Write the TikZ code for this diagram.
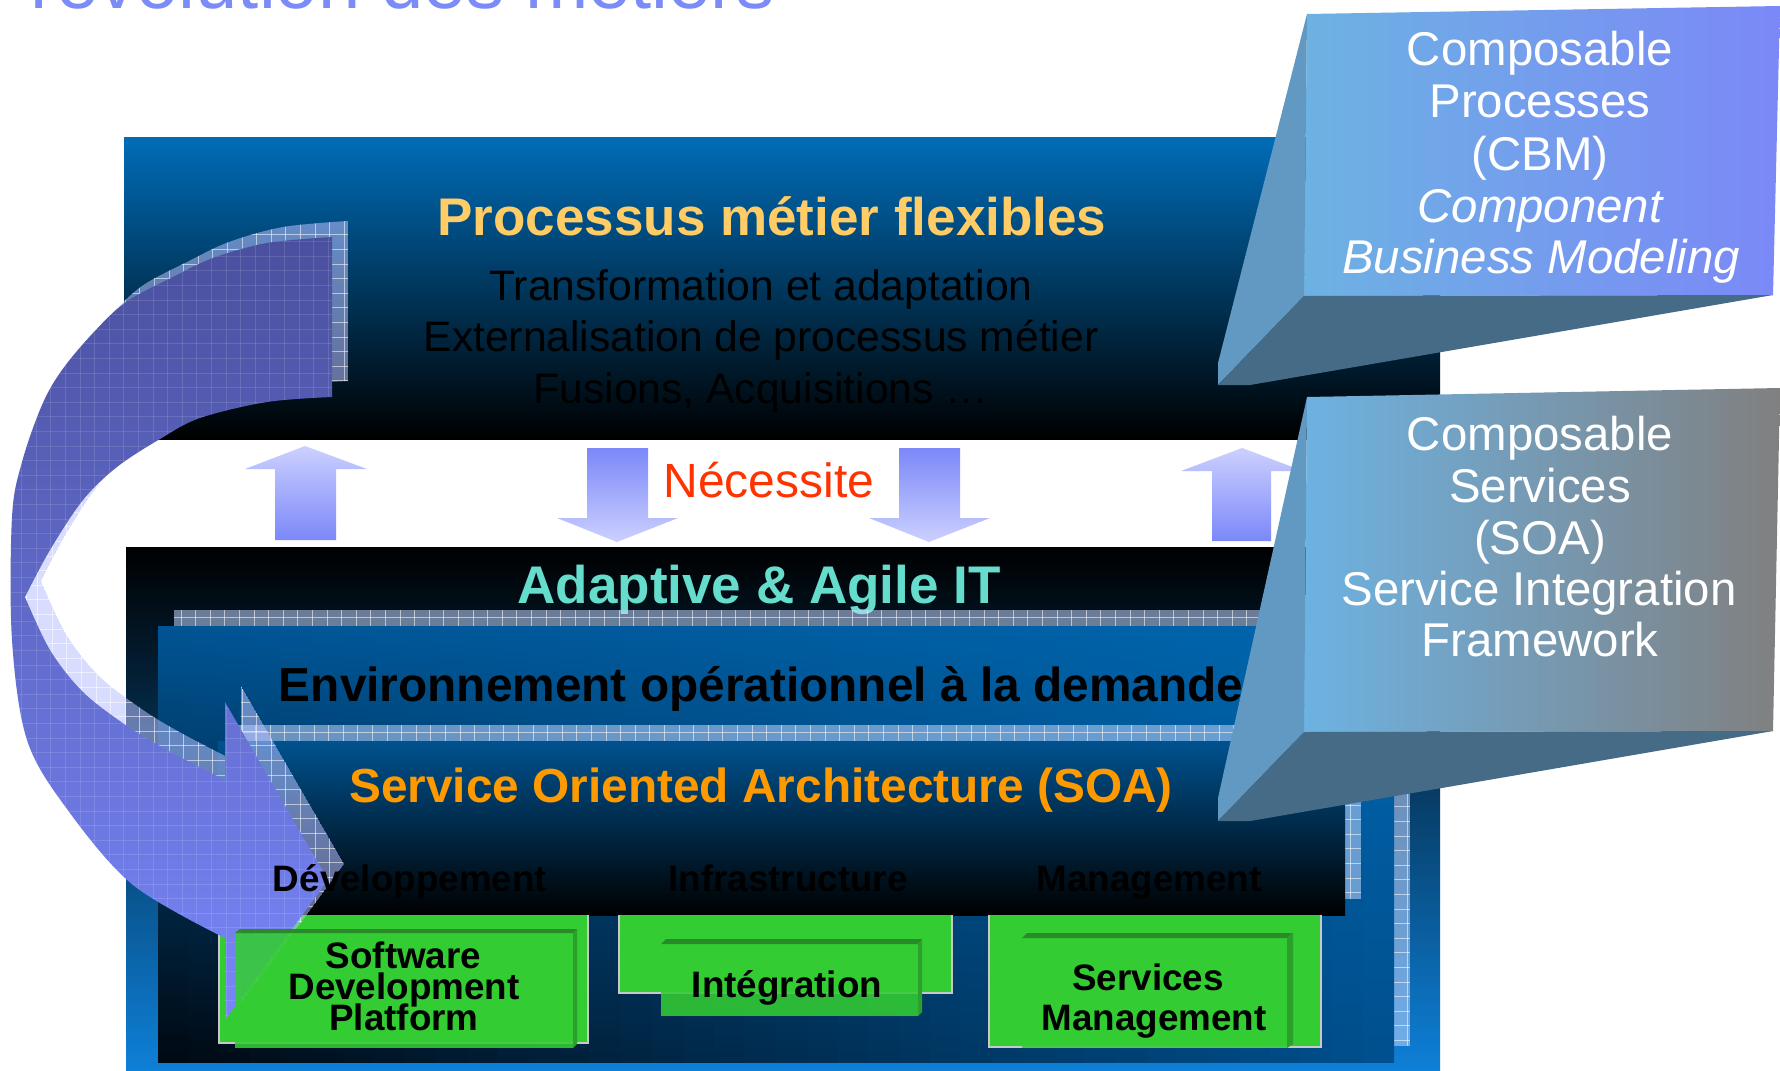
\documentclass[tikz,border=0pt]{standalone}
\usepackage{fontspec}
\setmainfont{Liberation Sans}
\definecolor{titleblue}{HTML}{7B8BF7}
\definecolor{boxblue}{HTML}{006DB8}
\definecolor{boxmid}{HTML}{00558F}
\definecolor{procyellow}{HTML}{FFCC66}
\definecolor{necred}{HTML}{FF3300}
\definecolor{agilecyan}{HTML}{66DDCC}
\definecolor{soaorange}{HTML}{FF9900}
\definecolor{arrlight}{HTML}{CCD0FF}
\definecolor{arrdark}{HTML}{7B88F8}
\definecolor{envTL}{HTML}{005494}
\definecolor{envTR}{HTML}{0066AE}
\definecolor{envBL}{HTML}{000810}
\definecolor{envBR}{HTML}{00508F}
\definecolor{soatop}{HTML}{00528F}
\definecolor{soamid}{HTML}{003D70}
\definecolor{bblue}{HTML}{0E80D8}
\definecolor{bmid}{HTML}{04406E}
\definecolor{shadowc}{HTML}{C1D6FF}
\definecolor{ashadow}{HTML}{B8C0FF}
\definecolor{curtop}{HTML}{4A509E}
\definecolor{curbot}{HTML}{7886F8}
\definecolor{gfront}{HTML}{33CC33}
\definecolor{gtop}{HTML}{2A8A2A}
\definecolor{gside}{HTML}{2CA02C}
\definecolor{gborder}{HTML}{C8C8C8}
\definecolor{calsky}{HTML}{6DB2E2}
\definecolor{calviolet}{HTML}{7B88F8}
\definecolor{calgray}{HTML}{808080}
\definecolor{calleft}{HTML}{6199C3}
\definecolor{calbottom}{HTML}{456B86}

\newcommand{\myfs}[1]{\fontsize{#1}{#1}\selectfont}
% x0 y0 x1 y1 nx ny
\newcommand{\gridlines}[6]{%
  \foreach \i in {0,...,#5} {\draw ({#1+7+14.6*\i},#2) -- ({#1+7+14.6*\i},#4);}
  \foreach \i in {0,...,#6} {\draw (#1,{#2+7+14.6*\i}) -- (#3,{#2+7+14.6*\i});}
}
\newcommand{\arrowP}{plot[smooth,tension=0.55] coordinates {(332,237) (267,243) (213,258) (173,277) (126,302) (93,333) (62,370) (42,405) (22,462) (12,517) (12,640) (27,740) (67,809) (133,885) (225,938)} -- (225,1020) -- (328,880) -- (225,702) -- (225,780) -- plot[smooth,tension=0.55] coordinates {(225,780) (167,750) (127,726) (83,692) (50,650) (25,597)} -- plot[smooth,tension=0.55] coordinates {(25,597) (50,550) (83,500) (117,467) (160,439) (200,418) (267,402) (332,397)} -- cycle}

\begin{document}
\begin{tikzpicture}[x=0.5pt,y=-0.5pt,
  txt/.style={inner sep=0pt, outer sep=0pt, anchor=base},
  gridln/.style={white, line width=0.5pt, opacity=0.55},
  faintgrid/.style={white, line width=0.4pt, opacity=0.12},
  upshade/.style={top color=arrlight, bottom color=arrdark},
  downshade/.style={top color=arrdark, bottom color=arrlight},
  backgreen/.style={fill=gfront},
  backborder/.style={draw=gborder, line width=0.8pt},
  frontface/.style={fill=gfront, fill opacity=0.88},
  topface/.style={fill=gtop},
  sideface/.style={fill=gside},
  callface/.style={fill=calleft},
  callbottom/.style={fill=calbottom},
  calltxt/.style={txt, text=white, font=\myfs{23.7}},
  greentxt/.style={txt, font=\bfseries\myfs{18.4}},
  collbl/.style={txt, font=\bfseries\myfs{18.4}},
  subtxt/.style={txt, font=\myfs{21.3}},
  bigtxt/.style={txt, font=\bfseries\myfs{23.9}},
]
\useasboundingbox (0,0) rectangle (1780,1070);
\clip (0,0) rectangle (1780,1070);
\fill[white] (0,0) rectangle (1780,1070);

% title (cut by the top edge)
\node[txt, anchor=base west, text=titleblue, font=\myfs{38}] (title) at (31,9) {révolution des métiers};

% top box
\shade[top color=boxblue, middle color=boxmid, bottom color=black] (124,137) rectangle (1440,439);
\node[txt, text=procyellow, font=\bfseries\myfs{26.5}] (proc) at (772,235) {Processus métier flexibles};
\node[subtxt] (l1) at (761,300) {Transformation et adaptation};
\node[subtxt] (l2) at (761,351) {Externalisation de processus métier};
\node[subtxt] (l3) at (761,403) {Fusions, Acquisitions …};

% middle block arrows
\shade[upshade] (275,540) -- (275,469) -- (245,469) -- (305,446) -- (367,469) -- (336,469) -- (336,540) -- cycle;
\shade[downshade] (587,448) -- (648,448) -- (648,518) -- (678,518) -- (617,542) -- (557,518) -- (587,518) -- cycle;
\shade[downshade] (899,448) -- (960,448) -- (960,518) -- (990,518) -- (929,542) -- (869,518) -- (899,518) -- cycle;
\shade[upshade] (1212,541) -- (1212,471) -- (1181,471) -- (1242,448) -- (1303,471) -- (1271,471) -- (1271,541) -- cycle;
\node[txt, text=necred, font=\myfs{24}] (nec) at (769,497) {Nécessite};

% bottom block
\shade[top color=black, middle color=bmid, bottom color=bblue] (126,547) rectangle (1440,1070);
\node[txt, text=agilecyan, font=\bfseries\myfs{26.5}] (agile) at (759,603) {Adaptive \& Agile IT};

% environment layer shadow + layer
\begin{scope}
  \clip (174,610) rectangle (1410,1046);
  \fill[shadowc, fill opacity=0.55] (174,610) rectangle (1410,1046);
  \begin{scope}[gridln]\gridlines{174}{610}{1410}{1046}{85}{30}\end{scope}
\end{scope}
\begin{scope}
  \clip (158,626) rectangle (1394,1062);
  \foreach \k in {0,...,39} {
    \pgfmathsetmacro{\xa}{158+\k*30.9}
    \pgfmathsetmacro{\xb}{\xa+32}
    \pgfmathsetmacro{\mixp}{(\k+0.5)*2.5}
    \shade[top color=envTR!\mixp!envTL, bottom color=envBR!\mixp!envBL] (\xa,626) rectangle (\xb,1062);
  }
\end{scope}
\node[bigtxt] (env) at (761,701) {Environnement opérationnel à la demande};

% SOA layer shadow + layer
\begin{scope}
  \clip (234,725) rectangle (1361,899);
  \fill[shadowc, fill opacity=0.55] (234,725) rectangle (1361,899);
  \begin{scope}[gridln]\gridlines{234}{725}{1361}{899}{78}{12}\end{scope}
\end{scope}
\shade[top color=soatop, middle color=soamid, bottom color=black] (218,741) rectangle (1345,915);
\node[bigtxt, text=soaorange] (soa) at (761,802) {Service Oriented Architecture (SOA)};

% green back panels
\fill[backgreen] (219,915) rectangle (588,1043);
\draw[backborder] (219,915) -- (219,1043) -- (588,1043) -- (588,915);
\fill[backgreen] (619,915) rectangle (952,993);
\draw[backborder] (619,915) -- (619,993) -- (952,993) -- (952,915);
\fill[backgreen] (989,915) rectangle (1321,1047);
\draw[backborder] (989,915) -- (989,1047) -- (1321,1047) -- (1321,915);

% curved arrow: shadow
\begin{scope}[shift={(16,-16)}]
  \clip \arrowP;
  \fill[ashadow, fill opacity=0.55] \arrowP;
  \begin{scope}[gridln]\gridlines{0}{200}{380}{1040}{26}{58}\end{scope}
\end{scope}
% curved arrow
\shade[top color=curtop, bottom color=curbot] \arrowP;
\begin{scope}
  \clip \arrowP;
  \begin{scope}[faintgrid]\gridlines{0}{220}{380}{1040}{26}{58}\end{scope}
\end{scope}

% column labels
\node[collbl] (dev) at (410,891) {Développement};
\node[collbl] (infra) at (788,891) {Infrastructure};
\node[collbl] (mgmt) at (1149,891) {Management};

% green front boxes
\fill[frontface] (235,933) rectangle (573,1048);
\fill[topface] (235,933) -- (240,929) -- (577,929) -- (573,933) -- cycle;
\fill[sideface] (573,933) -- (577,929) -- (577,1044) -- (573,1048) -- cycle;
\node[greentxt] (sdp1) at (403.5,968) {Software};
\node[greentxt] (sdp2) at (404,999) {Development};
\node[greentxt] (sdp3) at (404,1030) {Platform};

\fill[frontface] (661,944) rectangle (918,1016);
\fill[topface] (661,944) -- (666,939) -- (922,939) -- (918,944) -- cycle;
\fill[sideface] (918,944) -- (922,939) -- (922,1012) -- (918,1016) -- cycle;
\node[greentxt] (integ) at (787,997) {Intégration};

\fill[frontface] (1022,938) rectangle (1287,1048);
\fill[topface] (1022,938) -- (1027,933) -- (1293,933) -- (1287,938) -- cycle;
\fill[sideface] (1287,938) -- (1293,933) -- (1293,1044) -- (1287,1048) -- cycle;
\node[greentxt] (sm1) at (1148,990) {Services};
\node[greentxt] (sm2) at (1154,1030) {Management};

% callout 1
\shade[left color=calsky, right color=calviolet] (1307,14) -- (1780,6) -- (1773,295) -- (1304,296) -- cycle;
\fill[callface] (1307,14) -- (1304,296) -- (1218,385) -- (1218,363) -- cycle;
\fill[callbottom] (1304,296) -- (1773,295) -- (1250,385) -- (1218,385) -- cycle;
\node[calltxt] (c1a) at (1540,66) {Composable};
\node[calltxt] (c1b) at (1540,118) {Processes};
\node[calltxt] (c1c) at (1540,170) {(CBM)};
\node[calltxt, font=\itshape\myfs{23.7}] (c1d) at (1540,222) {Component};
\node[calltxt, font=\itshape\myfs{23.7}] (c1e) at (1541,273) {Business Modeling};

% callout 2
\shade[left color=calsky, right color=calgray] (1307,397) -- (1780,388) -- (1773,731) -- (1304,732) -- cycle;
\fill[callface] (1307,397) -- (1304,732) -- (1218,821) -- (1218,798) -- cycle;
\fill[callbottom] (1304,732) -- (1773,731) -- (1250,821) -- (1218,821) -- cycle;
\node[calltxt] (c2a) at (1540,450) {Composable};
\node[calltxt] (c2b) at (1540,502) {Services};
\node[calltxt] (c2c) at (1540,554) {(SOA)};
\node[calltxt] (c2d) at (1539,605) {Service Integration};
\node[calltxt] (c2e) at (1540,656) {Framework};
\end{tikzpicture}
\end{document}
